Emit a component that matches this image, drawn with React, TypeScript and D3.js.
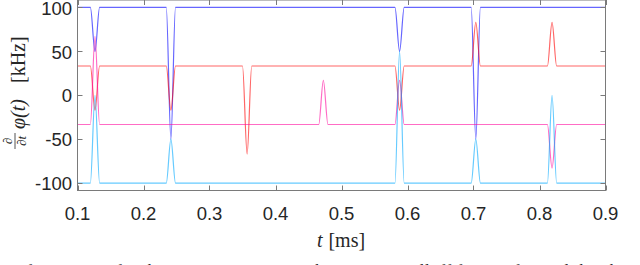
import * as d3 from 'd3';

// symbol boundary times [ms] where the instantaneous frequency pulses happen
const pulseTimes = [0.1265, 0.2415, 0.357, 0.4725, 0.588, 0.7035, 0.819];

// steady levels [kHz] and pulse peaks (null = flat at that boundary)
const blueLevel = 100;
const bluePeaks = [50, -50, null, null, 50, -50, null];
const redLevel = 33.3;
const redPeaks = [-17, -17, -67, null, -17, 83, 83];
const magentaLevel = -33.3;
const magentaPeaks = [67, null, null, 17, 17, null, -83];
const cyanLevel = -100;
const cyanPeaks = [0, -50, null, null, 50, -50, 0];

const xTicks = [0.1, 0.2, 0.3, 0.4, 0.5, 0.6, 0.7, 0.8, 0.9];
const yTicks = [-100, -50, 0, 50, 100];

const W = 640;
const H = 265;
const pulseHalf = 0.007;

const x = d3.scaleLinear().domain([0.1, 0.9]).range([77.5, 605.5]);
const y = d3.scaleLinear().domain([-108.5, 108.5]).range([190.5, 0]);

const buildTrace = (level, peaks) => {
  const pts = [[0.1, level]];
  pulseTimes.forEach((t, i) => {
    if (peaks[i] === null) return;
    pts.push([t - pulseHalf, level], [t, peaks[i]], [t + pulseHalf, level]);
  });
  pts.push([0.9, level]);
  return pts;
};

const traces = [
  { color: '#0000ff', data: buildTrace(blueLevel, bluePeaks) },
  { color: '#ff0000', data: buildTrace(redLevel, redPeaks) },
  { color: '#ff0a9e', data: buildTrace(magentaLevel, magentaPeaks) },
  { color: '#00a8ff', data: buildTrace(cyanLevel, cyanPeaks) },
];

const line = d3.line()
  .x(d => x(d[0]))
  .y(d => y(d[1]))
  .curve(d3.curveMonotoneX);

const axisColor = '#7a7a7a';
const textColor = '#262626';
const tickFont = '"Liberation Sans", Arial, sans-serif';
const mathFont = '"Liberation Serif", "DejaVu Serif", serif';

export default function App() {
  const [x0, x1] = x.range();
  const [y0, y1] = y.range();
  return (
    <svg width={W} height={H} style={{ position: 'absolute', left: 0, top: 0, background: '#fff' }}>
      <defs>
        <clipPath id="plot">
          <rect x={x0} y={y1} width={x1 - x0} height={y0 - y1} />
        </clipPath>
      </defs>

      <g clipPath="url(#plot)">
        {traces.map((tr, i) => (
          <path key={i} d={line(tr.data)} fill="none" stroke={tr.color}
            strokeOpacity={0.6} strokeWidth={1.2} />
        ))}
      </g>

      {/* box and ticks */}
      <rect x={x0} y={y1} width={x1 - x0} height={y0 - y1} fill="none" stroke={axisColor} strokeWidth={1} />
      {xTicks.map(t => (
        <g key={'x' + t}>
          <line x1={Math.round(x(t)) + 0.5} x2={Math.round(x(t)) + 0.5} y1={y0} y2={y0 - 5} stroke={axisColor} />
          <line x1={Math.round(x(t)) + 0.5} x2={Math.round(x(t)) + 0.5} y1={y1} y2={y1 + 5} stroke={axisColor} />
          <text x={x(t)} y={220} textAnchor="middle" fontFamily={tickFont} fontSize={18.5} fill={textColor}>
            {t.toFixed(1)}
          </text>
        </g>
      ))}
      {yTicks.map(v => (
        <g key={'y' + v}>
          <line x1={x0} x2={x0 + 5} y1={Math.round(y(v)) + 0.5} y2={Math.round(y(v)) + 0.5} stroke={axisColor} />
          <line x1={x1} x2={x1 - 5} y1={Math.round(y(v)) + 0.5} y2={Math.round(y(v)) + 0.5} stroke={axisColor} />
          <text x={72} y={y(v) + 7.2} textAnchor="end" fontFamily={tickFont} fontSize={18.5} fill={textColor}>
            {v}
          </text>
        </g>
      ))}

      {/* x label */}
      <text x={341} y={247} textAnchor="middle" fontFamily={mathFont} fontSize={20} fill={textColor}>
        <tspan fontStyle="italic">t</tspan>
        <tspan dx={6}>[ms]</tspan>
      </text>

      {/* y label, rotated */}
      <g transform="translate(25,94) rotate(-90)" fontFamily={mathFont} fill={textColor}>
        <text x={-47} y={-13} textAnchor="middle" fontSize={13} fontStyle="italic">∂</text>
        <line x1={-55} x2={-39} y1={-10} y2={-10} stroke={textColor} strokeWidth={0.8} />
        <text x={-47} y={1} textAnchor="middle" fontSize={13} fontStyle="italic">∂t</text>
        <text x={-35} y={0} fontSize={20} fontStyle="italic">φ(t)</text>
        <text x={11} y={0} fontSize={20}>[kHz]</text>
      </g>

      {/* caption, cut by the frame */}
      <text x={-4} y={276} fontFamily={mathFont} fontSize={17} fill={textColor} letterSpacing={0.6}>
        ous frequencies for the states in GMSK with transition rolloff factor of ½ and the chosen OF
      </text>
    </svg>
  );
}
